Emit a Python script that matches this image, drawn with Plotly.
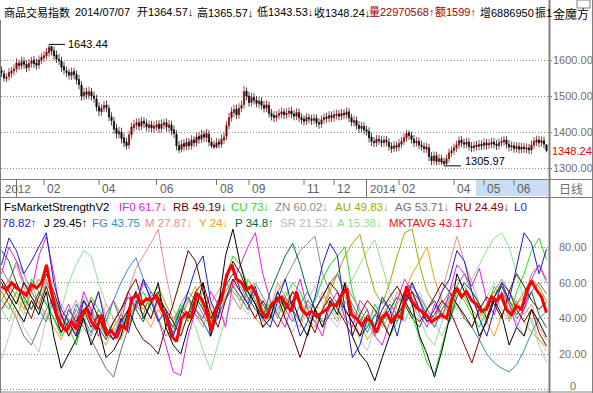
import numpy as np
import plotly.graph_objects as go

W, H = 593, 393
FONT = "Liberation Sans, Arial, Noto Sans CJK SC, sans-serif"

# ---------------- price bars (daily) ----------------
opens = [1570, 1562, 1548, 1554, 1563, 1570, 1576, 1590, 1584, 1596,
         1588, 1580, 1590, 1600, 1592, 1586, 1600, 1606, 1612, 1620,
         1638, 1626, 1614, 1602, 1598, 1582, 1570, 1566, 1556, 1568,
         1560, 1546, 1530, 1500, 1512, 1502, 1512, 1500, 1492, 1470,
         1456, 1466, 1475, 1466, 1442, 1430, 1410, 1394, 1400, 1384,
         1372, 1364, 1392, 1412, 1420, 1426, 1416, 1430, 1424, 1412,
         1420, 1410, 1414, 1422, 1410, 1420, 1426, 1412, 1420, 1406,
         1394, 1362, 1352, 1368, 1360, 1372, 1362, 1378, 1370, 1388,
         1380, 1394, 1384, 1394, 1372, 1364, 1358, 1372, 1366, 1378,
         1388, 1418, 1440, 1454, 1464, 1448, 1466, 1476, 1514, 1500,
         1482, 1496, 1488, 1478, 1486, 1474, 1466, 1474, 1452, 1446,
         1440, 1446, 1450, 1456, 1448, 1452, 1458, 1450, 1444, 1454,
         1440, 1436, 1430, 1440, 1436, 1432, 1438, 1426, 1422, 1434,
         1442, 1438, 1446, 1440, 1446, 1450, 1444, 1452, 1448, 1456,
         1440, 1426, 1432, 1418, 1410, 1416, 1406, 1402, 1386, 1374,
         1370, 1380, 1376, 1370, 1378, 1372, 1360, 1354, 1362, 1358,
         1366, 1374, 1384, 1398, 1390, 1380, 1370, 1374, 1364, 1360,
         1352, 1356, 1332, 1320, 1334, 1318, 1326, 1318, 1312, 1326,
         1342, 1348, 1356, 1364, 1378, 1370, 1366, 1372, 1360, 1356,
         1364, 1360, 1366, 1362, 1370, 1364, 1366, 1372, 1366, 1362,
         1370, 1372, 1378, 1366, 1358, 1362, 1354, 1360, 1352, 1358,
         1352, 1356, 1350, 1364, 1372, 1378, 1370, 1376, 1364.57]
highs = [1582, 1573, 1562, 1578, 1581, 1588, 1605, 1601, 1609, 1607,
         1599, 1603, 1609, 1611, 1603, 1613, 1619, 1625, 1634, 1643.44,
         1638, 1636, 1626, 1617, 1609, 1595, 1582, 1576, 1579, 1578,
         1571, 1559, 1541, 1523, 1523, 1526, 1522, 1512, 1503, 1483,
         1477, 1486, 1488, 1476, 1455, 1442, 1422, 1415, 1412, 1396,
         1384, 1403, 1426, 1434, 1438, 1439, 1443, 1441, 1436, 1432,
         1431, 1429, 1432, 1433, 1435, 1437, 1438, 1433, 1431, 1418,
         1405, 1375, 1378, 1380, 1384, 1383, 1391, 1388, 1398, 1399,
         1406, 1404, 1409, 1405, 1384, 1376, 1383, 1382, 1393, 1398,
         1430, 1453, 1469, 1476, 1476, 1480, 1487, 1528, 1524, 1512,
         1509, 1508, 1500, 1498, 1497, 1486, 1488, 1485, 1464, 1458,
         1458, 1464, 1468, 1466, 1465, 1469, 1470, 1461, 1466, 1465,
         1452, 1447, 1452, 1451, 1448, 1450, 1449, 1438, 1446, 1452,
         1453, 1458, 1457, 1460, 1462, 1461, 1464, 1463, 1468, 1466,
         1451, 1445, 1443, 1430, 1428, 1427, 1418, 1413, 1398, 1386,
         1392, 1391, 1388, 1390, 1389, 1384, 1371, 1375, 1373, 1380,
         1386, 1396, 1406, 1405, 1401, 1392, 1386, 1385, 1376, 1371,
         1370, 1367, 1344, 1346, 1345, 1339, 1337, 1329, 1338, 1354,
         1360, 1368, 1376, 1388, 1389, 1382, 1384, 1383, 1372, 1374,
         1375, 1378, 1377, 1382, 1381, 1380, 1384, 1383, 1378, 1382,
         1386, 1389, 1388, 1378, 1374, 1373, 1372, 1371, 1370, 1369,
         1368, 1367, 1376, 1386, 1390, 1389, 1388, 1387, 1365.57]
lows = [1553, 1540, 1538, 1543, 1551, 1557, 1565, 1572, 1574, 1576,
        1566, 1569, 1579, 1577, 1573, 1575, 1589, 1594, 1601, 1609,
        1613, 1599, 1592, 1586, 1567, 1560, 1552, 1546, 1544, 1547,
        1533, 1518, 1487, 1489, 1491, 1490, 1487, 1481, 1457, 1444,
        1445, 1455, 1455, 1430, 1418, 1395, 1382, 1382, 1368, 1358,
        1352, 1353, 1380, 1401, 1407, 1404, 1405, 1411, 1402, 1400,
        1400, 1398, 1403, 1397, 1399, 1407, 1401, 1400, 1391, 1383,
        1349, 1341, 1343, 1348, 1349, 1350, 1351, 1358, 1359, 1367,
        1369, 1373, 1372, 1360, 1355, 1353, 1354, 1355, 1356, 1367,
        1377, 1407, 1429, 1441, 1436, 1437, 1455, 1465, 1488, 1470,
        1471, 1476, 1468, 1466, 1462, 1454, 1455, 1440, 1432, 1427,
        1429, 1435, 1439, 1436, 1437, 1441, 1438, 1432, 1433, 1428,
        1422, 1418, 1419, 1424, 1420, 1421, 1414, 1409, 1411, 1423,
        1426, 1427, 1428, 1429, 1435, 1432, 1433, 1436, 1437, 1428,
        1416, 1415, 1406, 1398, 1399, 1394, 1390, 1371, 1361, 1358,
        1359, 1364, 1358, 1359, 1360, 1348, 1342, 1344, 1346, 1347,
        1355, 1363, 1373, 1378, 1368, 1358, 1359, 1352, 1348, 1342,
        1341, 1319, 1308, 1309, 1308, 1308, 1308, 1305.97, 1308, 1315,
        1331, 1337, 1345, 1353, 1358, 1354, 1355, 1348, 1344, 1345,
        1348, 1349, 1350, 1351, 1352, 1353, 1355, 1354, 1350, 1351,
        1359, 1361, 1354, 1346, 1347, 1342, 1343, 1340, 1341, 1342,
        1341, 1338, 1339, 1353, 1361, 1358, 1359, 1354, 1343.53]
closes = [1565, 1550, 1552, 1565, 1570, 1575, 1592, 1585, 1595, 1588,
          1578, 1590, 1598, 1590, 1585, 1600, 1608, 1612, 1622, 1635,
          1625, 1612, 1603, 1598, 1580, 1572, 1565, 1558, 1566, 1560,
          1545, 1532, 1500, 1510, 1504, 1512, 1500, 1494, 1470, 1458,
          1466, 1474, 1468, 1442, 1432, 1408, 1396, 1402, 1382, 1370,
          1362, 1392, 1414, 1420, 1426, 1416, 1430, 1424, 1414, 1420,
          1412, 1416, 1420, 1410, 1422, 1426, 1414, 1420, 1404, 1396,
          1362, 1350, 1366, 1360, 1372, 1362, 1378, 1370, 1386, 1380,
          1392, 1386, 1396, 1372, 1362, 1358, 1370, 1366, 1380, 1386,
          1418, 1440, 1456, 1462, 1448, 1466, 1474, 1512, 1500, 1482,
          1496, 1488, 1480, 1486, 1474, 1466, 1476, 1452, 1444, 1440,
          1446, 1452, 1456, 1448, 1452, 1458, 1450, 1444, 1454, 1440,
          1434, 1430, 1440, 1436, 1432, 1438, 1426, 1422, 1434, 1440,
          1438, 1446, 1440, 1448, 1450, 1444, 1452, 1448, 1456, 1440,
          1428, 1432, 1418, 1410, 1416, 1406, 1402, 1384, 1374, 1370,
          1380, 1376, 1370, 1378, 1372, 1360, 1354, 1362, 1358, 1368,
          1374, 1384, 1396, 1390, 1380, 1370, 1374, 1364, 1360, 1354,
          1358, 1332, 1320, 1334, 1318, 1326, 1316, 1312, 1326, 1342,
          1348, 1356, 1364, 1376, 1370, 1366, 1372, 1360, 1356, 1362,
          1360, 1366, 1362, 1370, 1364, 1368, 1372, 1366, 1362, 1370,
          1374, 1378, 1366, 1358, 1362, 1354, 1360, 1352, 1358, 1354,
          1356, 1350, 1364, 1374, 1378, 1370, 1376, 1366, 1348.24]

price_ticks = [1300, 1400, 1500, 1600]
peak_idx, peak_val = 19, 1643.44
trough_idx, trough_val = 177, 1305.97
last_close = 1348.24

# date axis (bar index of each month tick)
month_labels = ["02", "04", "06", "08", "09", "11", "12", "02", "04", "05", "06"]
month_idx = [17, 39, 62, 86, 99, 121, 133, 159, 181, 193, 205]
year_labels = ["2012", "2014"]
year_idx = [0, 146]
year_sep_idx = [6, 146]

# ---------------- FsMarketStrengthV2 ----------------
ind_ticks = [0, 20, 40, 60, 80]

J = [60, 52, 45, 38, 50, 42, 55, 30, 12, 20, 28, 40, 25, 35, 18, 22, 30, 45, 55, 40,
     48, 60, 35, 25, 20, 35, 45, 60, 30, 45, 75, 90, 70, 55, 48, 35, 40, 55, 45, 50,
     38, 30, 45, 35, 50, 42, 60, 30, 20, 15, 5, 18, 30, 42, 55, 48, 30, 20, 7, 22,
     40, 65, 55, 45, 30, 38, 50, 42, 25, 35, 30, 45, 38, 29.45]
L0 = [70, 85, 78, 65, 72, 80, 88, 60, 45, 38, 30, 50, 42, 55, 35, 28, 40, 32, 48, 62,
      50, 38, 45, 30, 42, 55, 68, 75, 50, 40, 62, 70, 55, 48, 58, 40, 35, 50, 62, 45,
      30, 38, 52, 70, 82, 75, 45, 18, 25, 40, 35, 52, 45, 30, 48, 60, 50, 38, 45, 55,
      62, 78, 72, 55, 40, 30, 45, 60, 50, 70, 88, 82, 65, 78.82]
IF0 = [65, 80, 72, 60, 55, 75, 86, 65, 40, 48, 35, 55, 45, 30, 42, 50, 38, 55, 45, 60,
       52, 40, 25, 10, 8, 30, 45, 40, 55, 48, 35, 60, 70, 80, 88, 65, 50, 42, 35, 50,
       62, 45, 38, 30, 48, 55, 40, 35, 50, 45, 30, 25, 38, 50, 62, 55, 42, 35, 48, 40,
       55, 70, 65, 58, 68, 50, 42, 55, 48, 35, 45, 62, 70, 61.7]
M = [55, 62, 70, 58, 45, 52, 62, 48, 35, 42, 50, 38, 45, 55, 40, 30, 42, 55, 68, 75,
     82, 90, 65, 45, 38, 50, 42, 35, 48, 55, 62, 52, 45, 58, 50, 38, 45, 60, 52, 40,
     35, 48, 42, 55, 45, 38, 50, 42, 30, 38, 45, 35, 42, 55, 48, 40, 52, 45, 38, 55,
     70, 86, 72, 60, 48, 40, 52, 45, 38, 50, 42, 48, 35, 27.87]
CU = [50, 45, 55, 48, 62, 55, 48, 40, 30, 35, 25, 40, 52, 45, 38, 50, 42, 35, 48, 55,
      45, 40, 30, 35, 48, 42, 55, 50, 38, 45, 62, 75, 70, 58, 50, 42, 48, 40, 52, 60,
      55, 45, 50, 62, 70, 75, 80, 55, 42, 35, 48, 40, 30, 38, 50, 42, 28, 15, 9, 25,
      40, 55, 50, 42, 35, 45, 58, 50, 40, 55, 65, 78, 85, 73]
A = [45, 38, 50, 42, 55, 48, 40, 52, 45, 60, 70, 78, 75, 60, 48, 40, 35, 45, 55, 48,
     40, 52, 45, 38, 30, 42, 35, 22, 11, 25, 40, 52, 45, 55, 48, 40, 50, 42, 55, 48,
     40, 35, 45, 52, 48, 40, 55, 62, 70, 78, 84, 70, 55, 45, 38, 48, 40, 30, 25, 38,
     50, 45, 55, 62, 70, 78, 85, 88, 80, 65, 50, 38, 25, 15.38]
FG = [62, 55, 48, 60, 52, 45, 38, 50, 42, 35, 48, 40, 32, 45, 38, 50, 60, 68, 74, 62,
      55, 48, 40, 35, 45, 52, 42, 38, 30, 42, 50, 58, 52, 45, 55, 48, 40, 52, 45, 38,
      48, 55, 45, 52, 60, 65, 55, 48, 40, 32, 42, 50, 45, 38, 48, 55, 50, 42, 35, 45,
      52, 48, 40, 35, 28, 20, 15, 12, 10, 14, 22, 32, 40, 43.75]
SR = [17, 30, 45, 35, 28, 21, 40, 55, 48, 38, 45, 52, 42, 35, 48, 40, 30, 42, 55, 62,
      50, 45, 38, 30, 42, 50, 45, 55, 48, 40, 52, 60, 48, 42, 55, 45, 38, 48, 40, 32,
      42, 50, 58, 48, 40, 35, 45, 38, 28, 22, 35, 42, 50, 45, 38, 48, 55, 45, 38, 30,
      40, 48, 42, 35, 45, 52, 60, 55, 45, 38, 30, 40, 28, 21.52]
Y = [55, 48, 40, 52, 60, 48, 42, 35, 28, 40, 32, 45, 38, 30, 25, 35, 28, 40, 48, 42,
     35, 45, 38, 30, 42, 50, 58, 45, 35, 40, 52, 60, 55, 48, 40, 35, 45, 50, 42, 55,
     48, 40, 35, 45, 58, 65, 52, 45, 38, 28, 35, 42, 38, 48, 55, 65, 72, 80, 62, 50,
     42, 48, 40, 35, 45, 38, 30, 42, 50, 45, 38, 32, 28, 24]
P = [78, 72, 60, 52, 45, 55, 48, 40, 32, 45, 38, 50, 42, 35, 28, 38, 45, 52, 45, 38,
     50, 55, 42, 35, 45, 40, 52, 45, 38, 50, 58, 65, 60, 52, 45, 40, 55, 65, 75, 82,
     70, 55, 45, 38, 42, 50, 45, 38, 30, 35, 42, 38, 45, 52, 48, 40, 35, 45, 50, 42,
     38, 52, 60, 55, 48, 40, 52, 58, 50, 42, 48, 55, 42, 34.8]
AU = [50, 58, 52, 45, 55, 62, 55, 48, 40, 35, 42, 50, 45, 38, 30, 35, 42, 38, 50, 45,
      52, 58, 48, 40, 45, 38, 50, 55, 42, 48, 60, 55, 50, 62, 55, 45, 40, 52, 48, 55,
      50, 42, 38, 45, 55, 65, 75, 82, 87, 70, 55, 48, 60, 75, 88, 90, 70, 55, 48, 42,
      50, 58, 52, 45, 40, 48, 55, 50, 42, 48, 55, 62, 58, 49.83]
ZN = [68, 60, 72, 65, 55, 48, 60, 52, 42, 35, 45, 38, 30, 42, 35, 28, 38, 45, 52, 48,
      40, 50, 45, 38, 48, 55, 50, 42, 35, 48, 55, 62, 58, 50, 60, 52, 45, 55, 62, 70,
      78, 82, 86, 65, 55, 48, 60, 52, 45, 38, 30, 40, 48, 42, 50, 58, 52, 45, 40, 48,
      55, 62, 58, 50, 42, 48, 55, 62, 55, 48, 52, 65, 70, 60.02]
AG = [55, 48, 40, 30, 25, 35, 45, 52, 38, 30, 42, 35, 28, 20, 12, 7, 22, 35, 48, 42,
      55, 48, 40, 32, 45, 52, 45, 38, 30, 42, 50, 58, 52, 45, 55, 48, 40, 45, 52, 45,
      38, 50, 45, 35, 42, 50, 58, 45, 38, 45, 32, 40, 48, 42, 55, 60, 50, 42, 35, 45,
      52, 58, 65, 55, 48, 40, 52, 58, 48, 40, 45, 55, 60, 53.71]
RB = [62, 55, 48, 60, 52, 45, 58, 45, 32, 38, 30, 42, 50, 40, 32, 28, 38, 45, 35, 28,
      25, 20, 35, 48, 62, 78, 72, 55, 40, 48, 60, 72, 65, 55, 48, 40, 45, 52, 40, 30,
      18, 32, 45, 52, 60, 55, 45, 38, 30, 42, 35, 45, 52, 58, 50, 42, 38, 45, 52, 60,
      55, 48, 42, 35, 45, 52, 48, 40, 55, 65, 58, 50, 45, 49.19]
RU = [45, 52, 60, 48, 40, 52, 65, 55, 42, 30, 38, 45, 35, 42, 30, 38, 45, 55, 62, 48,
      40, 52, 45, 38, 30, 42, 55, 60, 45, 35, 50, 62, 55, 48, 40, 50, 42, 35, 45, 55,
      48, 40, 32, 45, 52, 45, 38, 30, 42, 50, 45, 38, 30, 42, 48, 55, 45, 38, 42, 50,
      45, 35, 25, 15, 28, 40, 52, 60, 55, 45, 38, 45, 32, 24.49]
MKTAVG = [58, 56, 60, 57, 55, 53, 59, 57, 60, 70,
          55, 42, 36, 33, 38, 34, 42, 46, 38, 34,
          42, 31, 33, 29, 36, 34, 51, 53, 48, 51,
          50, 53, 45, 41, 30, 27, 40, 43, 40, 54,
          51, 44, 33, 46, 50, 64, 70, 62, 60, 56,
          58, 53, 44, 40, 48, 50, 52, 47, 44, 55,
          45, 42, 44, 41, 43, 45, 48, 47, 53, 57,
          42, 40, 36, 40, 38, 32, 40, 43, 38, 42,
          40, 58, 50, 46, 44, 42, 38, 40, 42, 40,
          50, 57, 52, 55, 50, 48, 44, 45, 52, 50,
          53, 45, 42, 47, 45, 55, 61, 56, 52, 43.17]

# draw order (back to front): name, values, colour
series = [
    ("SR", SR, "#c4c4c4"), ("A", A, "#8fe08f"), ("M", M, "#e8908a"),
    ("ZN", ZN, "#8c8c8c"), ("AG", AG, "#707070"), ("AU", AU, "#a6a600"),
    ("Y", Y, "#f0a020"), ("FG", FG, "#2f8fc4"), ("P", P, "#006b3c"),
    ("CU", CU, "#22dd22"), ("IF0", IF0, "#e020e0"), ("RU", RU, "#8b0000"),
    ("RB", RB, "#600000"), ("L0", L0, "#1c1cc8"), ("J", J, "#000000"),
]

# ---------------- figure ----------------
def py(p):
    return 1 - p / H

XR = [-0.2, 218.6]
XDOM = [1 / W, 548 / W]

fig = go.Figure()
n = len(closes)
fig.add_trace(go.Candlestick(
    x=list(range(n)), open=opens, high=highs, low=lows, close=closes,
    increasing=dict(line=dict(color="#7a0000", width=0.7), fillcolor="#7a0000"),
    decreasing=dict(line=dict(color="#000000", width=0.7), fillcolor="#000000"),
    whiskerwidth=0, hoverinfo="skip", xaxis="x", yaxis="y", showlegend=False))

for name, vals, col in series:
    fig.add_trace(go.Scatter(
        x=np.linspace(0, n - 1, len(vals)), y=vals, mode="lines",
        line=dict(color=col, width=1), xaxis="x2", yaxis="y2",
        hoverinfo="skip", showlegend=False, name=name))
fig.add_trace(go.Scatter(
    x=np.linspace(0, n - 1, len(MKTAVG)), y=MKTAVG, mode="lines",
    line=dict(color="#ff0000", width=3), xaxis="x2", yaxis="y2",
    hoverinfo="skip", showlegend=False, name="MKTAVG"))

grid = dict(showgrid=True, gridcolor="#8a8a8a", gridwidth=1, griddash="1px,2px",
            zeroline=False, showticklabels=False, showline=False, fixedrange=True)

ann = []
shapes = []

def text(xp, yp, s, color="#000", size=11, anchor="left", family=FONT):
    ann.append(dict(xref="paper", yref="paper", x=xp / W, y=py(yp), text=s,
                    showarrow=False, xanchor=anchor, yanchor="middle",
                    font=dict(size=size, color=color, family=family)))

def line(x0, y0, x1, y1, color="#808080", width=1, dash="solid"):
    shapes.append(dict(type="line", xref="paper", yref="paper",
                       x0=x0 / W, y0=py(y0), x1=x1 / W, y1=py(y1),
                       line=dict(color=color, width=width, dash=dash), layer="above"))

# top header
hdr = [(2, "商品交易指数", "#000"), (73, "2014/07/07", "#000"),
       (135, "开1364.57↓", "#000"), (195, "高1365.57↓", "#000"),
       (255, "低1343.53↓", "#000"), (312, "收1348.24↓", "#000"),
       (367, "量22970568↑", "#a00000"), (433, "额1599↑", "#a00000"),
       (478, "增6886950", "#000"), (533, "振1", "#000")]
for x, s, c in hdr:
    text(x, 12, s, c, 11)

# indicator header
row1 = [(2, "FsMarketStrengthV2", "#000"), (117, "IF0 61.7↓", "#e020e0"),
        (171, "RB 49.19↓", "#600000"), (229, "CU 73↓", "#22dd22"),
        (273, "ZN 60.02↓", "#8c8c8c"), (333, "AU 49.83↓", "#a6a600"),
        (393, "AG 53.71↓", "#707070"), (453, "RU 24.49↓", "#8b0000"),
        (512, "L0", "#1c1cc8")]
row2 = [(0, "78.82↑", "#1c1cc8"), (42, "J 29.45↑", "#000"),
        (90, "FG 43.75", "#2f8fc4"), (143, "M 27.87↓", "#e8908a"),
        (197, "Y 24↓", "#f0a020"), (233, "P 34.8↑", "#006b3c"),
        (278, "SR 21.52↓", "#b8b8b8"), (335, "A 15.38↓", "#8fe08f"),
        (387, "MKTAVG 43.17↓", "#ee1111")]
for x, s, c in row1:
    text(x, 207, s, c, 11.5)
for x, s, c in row2:
    text(x, 223, s, c, 11.5)

# right axis labels
for v in price_ticks:
    ann.append(dict(xref="paper", yref="y", x=573 / W, y=v, text=f"{v:.2f}",
                    showarrow=False, xanchor="center", yanchor="middle",
                    font=dict(size=11, color="#707070", family=FONT)))
ann.append(dict(xref="paper", yref="y", x=572 / W, y=last_close, text=f"{last_close:.2f}",
                showarrow=False, xanchor="center", yanchor="middle",
                font=dict(size=11, color="#e00000", family=FONT)))
for v in ind_ticks:
    ann.append(dict(xref="paper", yref="y2", x=573 / W, y=v,
                    text=("0" if v == 0 else f"{v:.2f}"),
                    showarrow=False, xanchor="center", yanchor="middle",
                    yshift=(4 if v == 0 else 0),
                    font=dict(size=11, color="#707070", family=FONT)))

# peak / trough markers
shapes.append(dict(type="line", xref="x", yref="y", x0=peak_idx, x1=peak_idx + 6.4,
                   y0=peak_val, y1=peak_val, line=dict(color="#000", width=1)))
ann.append(dict(xref="x", yref="y", x=peak_idx + 6.8, y=peak_val, text=f"{peak_val:.2f}",
                showarrow=False, xanchor="left", yanchor="middle",
                font=dict(size=11, color="#000", family=FONT)))
shapes.append(dict(type="line", xref="x", yref="y", x0=trough_idx, x1=trough_idx + 6.8,
                   y0=trough_val, y1=trough_val, line=dict(color="#000", width=1)))
ann.append(dict(xref="x", yref="y", x=trough_idx + 7.4, y=trough_val, text=f"{trough_val:.2f}",
                showarrow=False, xanchor="left", yanchor="bottom", yshift=-3,
                font=dict(size=11, color="#000", family=FONT)))

# date band
shapes.append(dict(type="rect", xref="paper", yref="paper", x0=476 / W, x1=548 / W,
                   y0=py(196), y1=py(180), fillcolor="#c8dcf4", line=dict(width=0),
                   layer="below"))
line(0, 179.5, 593, 179.5)
line(0, 197.5, 593, 197.5)
for i, lab in zip(month_idx, month_labels):
    shapes.append(dict(type="line", xref="x", yref="paper", x0=i, x1=i,
                       y0=py(185), y1=py(180), line=dict(color="#707070", width=1)))
    ann.append(dict(xref="x", yref="paper", x=i, y=py(189), text=lab, showarrow=False,
                    xanchor="left", yanchor="middle", xshift=1,
                    font=dict(size=12, color="#606060", family=FONT)))
for i in year_sep_idx:
    shapes.append(dict(type="line", xref="x", yref="paper", x0=i, x1=i,
                       y0=py(197), y1=py(180), line=dict(color="#707070", width=1)))
for i, lab in zip(year_idx, year_labels):
    ann.append(dict(xref="x", yref="paper", x=i, y=py(189), text=lab, showarrow=False,
                    xanchor="left", yanchor="middle", xshift=1,
                    font=dict(size=11.5, color="#606060", family=FONT)))

# frame
line(0.5, 20, 0.5, 393)
line(549.5, 0, 549.5, 393, width=2)
line(592.5, 0, 592.5, 393)
line(0, 392, 593, 392)
shapes.append(dict(type="rect", xref="paper", yref="paper", x0=577 / W, x1=590 / W,
                   y0=py(8), y1=py(0), line=dict(color="#808080", width=1),
                   fillcolor="rgba(0,0,0,0)"))
text(571, 13, "金魔方", "#000", 12, "center", "Noto Sans CJK SC")
text(571, 188, "日线", "#707070", 12, "center", "Noto Sans CJK SC")

fig.update_layout(
    width=W, height=H, autosize=False,
    margin=dict(l=0, r=0, t=0, b=0, pad=0),
    paper_bgcolor="#ffffff", plot_bgcolor="#ffffff",
    showlegend=False, hovermode=False,
    xaxis=dict(domain=XDOM, range=XR, visible=False, rangeslider=dict(visible=False),
               fixedrange=True, anchor="y"),
    yaxis=dict(domain=[py(179), py(22)], range=[1269.44, 1705.56], tickvals=price_ticks,
               side="right", anchor="x", ticks="outside", ticklen=3, tickcolor="#808080",
               **grid),
    xaxis2=dict(domain=XDOM, range=XR, visible=False, fixedrange=True, anchor="y2"),
    yaxis2=dict(domain=[py(391), py(197)], range=[-0.75, 108.04], tickvals=ind_ticks,
                side="right", anchor="x2", ticks="", **grid),
    annotations=ann, shapes=shapes,
)

fig.write_html(
    "out.html",
    config={"displayModeBar": False, "staticPlot": True},
    post_script="document.body.style.margin='0';document.body.style.overflow='hidden';",
)
